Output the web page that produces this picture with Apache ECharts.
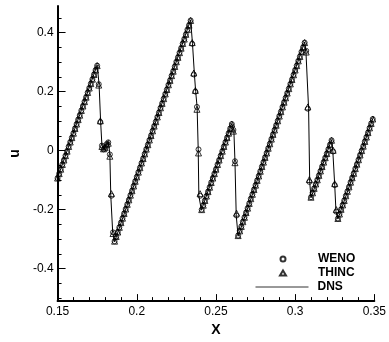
<!DOCTYPE html>
<html><head><meta charset="utf-8">
<script src="https://cdn.jsdelivr.net/npm/echarts@6/dist/echarts.min.js"></script>
<style>html,body{margin:0;padding:0;background:#fff}#c{width:389px;height:342px}</style>
</head><body><div id="c"></div>
<script>
const xGrid = [
0.150,0.151,0.152,0.153,0.154,0.155,0.156,0.157,0.158,0.159,
0.160,0.161,0.162,0.163,0.164,0.165,0.166,0.167,0.168,0.169,
0.170,0.171,0.172,0.173,0.174,0.175,0.176,0.177,0.178,0.179,
0.180,0.181,0.182,0.183,0.184,0.185,0.186,0.187,0.188,0.189,
0.190,0.191,0.192,0.193,0.194,0.195,0.196,0.197,0.198,0.199,
0.200,0.201,0.202,0.203,0.204,0.205,0.206,0.207,0.208,0.209,
0.210,0.211,0.212,0.213,0.214,0.215,0.216,0.217,0.218,0.219,
0.220,0.221,0.222,0.223,0.224,0.225,0.226,0.227,0.228,0.229,
0.230,0.231,0.232,0.233,0.234,0.235,0.236,0.237,0.238,0.239,
0.240,0.241,0.242,0.243,0.244,0.245,0.246,0.247,0.248,0.249,
0.250,0.251,0.252,0.253,0.254,0.255,0.256,0.257,0.258,0.259,
0.260,0.261,0.262,0.263,0.264,0.265,0.266,0.267,0.268,0.269,
0.270,0.271,0.272,0.273,0.274,0.275,0.276,0.277,0.278,0.279,
0.280,0.281,0.282,0.283,0.284,0.285,0.286,0.287,0.288,0.289,
0.290,0.291,0.292,0.293,0.294,0.295,0.296,0.297,0.298,0.299,
0.300,0.301,0.302,0.303,0.304,0.305,0.306,0.307,0.308,0.309,
0.310,0.311,0.312,0.313,0.314,0.315,0.316,0.317,0.318,0.319,
0.320,0.321,0.322,0.323,0.324,0.325,0.326,0.327,0.328,0.329,
0.330,0.331,0.332,0.333,0.334,0.335,0.336,0.337,0.338,0.339,
0.340,0.341,0.342,0.343,0.344,0.345,0.346,0.347,0.348,0.349];

const wenoU = [
-0.093,-0.078,-0.063,-0.047,-0.032,-0.017,-0.002,0.014,0.029,0.044,
0.059,0.075,0.090,0.105,0.120,0.136,0.151,0.166,0.181,0.197,
0.212,0.227,0.242,0.258,0.273,0.288,
0.225,0.097,0.017,0.004,0.012,0.022,0.028,-0.013,-0.153,-0.277,
-0.307,-0.291,-0.276,-0.260,-0.244,-0.229,-0.213,-0.198,-0.182,-0.167,
-0.151,-0.136,-0.120,-0.104,-0.089,-0.073,-0.058,-0.042,-0.027,-0.011,
0.005,0.020,0.036,0.051,0.067,0.083,0.098,0.114,0.129,0.145,
0.160,0.176,0.192,0.207,0.223,0.238,0.254,0.269,0.285,0.301,
0.316,0.332,0.347,0.363,0.378,0.394,0.410,0.425,0.441,
0.362,0.258,0.200,0.148,0.004,-0.153,
-0.200,-0.185,-0.169,-0.154,-0.139,-0.124,-0.108,-0.093,-0.078,-0.063,
-0.047,-0.032,-0.017,-0.002,0.014,0.029,0.044,0.059,0.075,0.090,
0.070,-0.036,-0.220,
-0.288,-0.272,-0.257,-0.241,-0.226,-0.210,-0.195,-0.179,-0.163,-0.148,
-0.132,-0.117,-0.101,-0.086,-0.070,-0.054,-0.039,-0.023,-0.008,0.008,
0.023,0.039,0.055,0.070,0.086,0.101,0.117,0.132,0.148,0.164,
0.179,0.195,0.210,0.226,0.241,0.257,0.273,0.288,0.304,0.319,
0.335,0.350,0.366,
0.338,0.142,-0.106,
-0.158,-0.143,-0.128,-0.113,-0.099,-0.084,-0.069,-0.054,-0.039,-0.024,
-0.010,0.005,0.020,0.035,
-0.003,-0.117,-0.207,
-0.230,-0.215,-0.199,-0.184,-0.169,-0.153,-0.138,-0.123,-0.107,-0.092,
-0.077,-0.061,-0.046,-0.031,-0.015,0.000,0.015,0.031,0.046,0.061,
0.077,0.092,0.107];

const thincU = [
-0.093,-0.078,-0.063,-0.047,-0.032,-0.017,-0.002,0.014,0.029,0.044,
0.059,0.075,0.090,0.105,0.120,0.136,0.151,0.166,0.181,0.197,
0.212,0.227,0.242,0.258,0.273,0.288,
0.222,0.101,0.014,0.006,0.010,0.020,0.025,-0.019,-0.146,-0.281,
-0.307,-0.291,-0.276,-0.260,-0.244,-0.229,-0.213,-0.198,-0.182,-0.167,
-0.151,-0.136,-0.120,-0.104,-0.089,-0.073,-0.058,-0.042,-0.027,-0.011,
0.005,0.020,0.036,0.051,0.067,0.083,0.098,0.114,0.129,0.145,
0.160,0.176,0.192,0.207,0.223,0.238,0.254,0.269,0.285,0.301,
0.316,0.332,0.347,0.363,0.378,0.394,0.410,0.425,0.441,
0.366,0.263,0.204,0.140,-0.008,-0.146,
-0.200,-0.185,-0.169,-0.154,-0.139,-0.124,-0.108,-0.093,-0.078,-0.063,
-0.047,-0.032,-0.017,-0.002,0.014,0.029,0.044,0.059,0.075,0.090,
0.066,-0.041,-0.212,
-0.288,-0.272,-0.257,-0.241,-0.226,-0.210,-0.195,-0.179,-0.163,-0.148,
-0.132,-0.117,-0.101,-0.086,-0.070,-0.054,-0.039,-0.023,-0.008,0.008,
0.023,0.039,0.055,0.070,0.086,0.101,0.117,0.132,0.148,0.164,
0.179,0.195,0.210,0.226,0.241,0.257,0.273,0.288,0.304,0.319,
0.335,0.350,0.366,
0.334,0.148,-0.098,
-0.158,-0.143,-0.128,-0.113,-0.099,-0.084,-0.069,-0.054,-0.039,-0.024,
-0.010,0.005,0.020,0.035,
0.001,-0.112,-0.200,
-0.230,-0.215,-0.199,-0.184,-0.169,-0.153,-0.138,-0.123,-0.107,-0.092,
-0.077,-0.061,-0.046,-0.031,-0.015,0.000,0.015,0.031,0.046,0.061,
0.077,0.092,0.107];

const dnsX = [0.150,0.175,0.1762,0.1772,0.1780,0.1792,0.1810,0.1820,0.1830,0.1836,0.1848,0.1860,
  0.2340,0.2352,0.2364,0.2372,0.2381,0.2388,0.2392,0.2408,
  0.2600,0.2613,0.2620,0.2628,0.2640,
  0.3060,0.3068,0.3085,0.3092,0.3100,
  0.3230,0.3238,0.3250,0.3258,0.3270,
  0.3495];
const dnsU = [-0.093,0.290,0.225,0.097,0.017,0.004,0.020,0.030,-0.010,-0.153,-0.277,-0.309,
  0.443,0.362,0.258,0.200,0.148,0.004,-0.153,-0.202,
  0.092,0.070,-0.036,-0.220,-0.290,
  0.368,0.338,0.142,-0.106,-0.160,
  0.037,-0.003,-0.117,-0.207,-0.232,
  0.115];

const yMajor = [-0.4,-0.2,0,0.2,0.4];
const yMinor = [-0.5,-0.45,-0.4,-0.35,-0.3,-0.25,-0.2,-0.15,-0.1,-0.05,0,0.05,0.1,0.15,0.2,0.25,0.3,0.35,0.4,0.45];
const markerNames = ['WENO','THINC'];
const lineNames = ['DNS'];

const FONT = 'Liberation Sans, Arial, sans-serif';
const chart = echarts.init(document.getElementById('c'));
const hollow = {color:'rgba(0,0,0,0)', borderColor:'#000', borderWidth:1};
const legendText = {fontFamily:FONT, fontWeight:'bold', fontSize:12, color:'#000', lineHeight:14};
chart.setOption({
  animation:false,
  backgroundColor:'#fff',
  grid:{left:47,right:10,top:6,bottom:34},
  legend:[
    {orient:'vertical', left:279, top:252, padding:0, itemWidth:6, itemHeight:5, itemGap:0,
     selectedMode:false, data:markerNames, symbolKeepAspect:true,
     textStyle:Object.assign({padding:[0,0,0,27]}, legendText)},
    {orient:'vertical', left:255, top:280, padding:0, itemWidth:53, itemHeight:5, itemGap:0,
     selectedMode:false, data:lineNames,
     lineStyle:{width:1, color:'#333'},
     textStyle:Object.assign({padding:[0,0,0,4]}, legendText)}
  ],
  xAxis:{type:'value', min:0.15, max:0.35, interval:0.05,
    name:'X', nameLocation:'middle', nameGap:19,
    nameTextStyle:{fontFamily:FONT, fontWeight:'bold', fontSize:14, color:'#000'},
    axisLine:{show:true, onZero:false, lineStyle:{color:'#000', width:2}},
    axisTick:{show:true, inside:true, length:7, lineStyle:{color:'#000', width:1}},
    minorTick:{show:true, splitNumber:5, length:4, lineStyle:{color:'#000', width:1}},
    axisLabel:{color:'#000', fontFamily:FONT, fontSize:12, margin:5},
    splitLine:{show:false}, minorSplitLine:{show:false}},
  yAxis:[{type:'value', min:-0.51, max:0.49, position:'left',
    name:'u', nameLocation:'middle', nameGap:24, nameRotate:90,
    nameTextStyle:{fontFamily:FONT, fontWeight:'bold', fontSize:14, color:'#000'},
    axisLine:{show:true, onZero:false, lineStyle:{color:'#000', width:2}},
    axisTick:{show:true, inside:true, length:8, customValues:yMajor, lineStyle:{color:'#000', width:1}},
    axisLabel:{show:true, customValues:yMajor, color:'#000', fontFamily:FONT, fontSize:12, margin:4,
      formatter:v=>String(Math.round(v*10)/10)},
    splitLine:{show:false}},
   {type:'value', min:-0.51, max:0.49, position:'left', offset:0,
    axisLine:{show:false},
    axisTick:{show:true, inside:true, length:4, customValues:yMinor, lineStyle:{color:'#000', width:1}},
    axisLabel:{show:false}, splitLine:{show:false}}],
  series:[
    {type:'line', name:'DNS', data:dnsX.map((x,i)=>[x,dnsU[i]]), symbol:'none', showSymbol:false,
      lineStyle:{color:'#000', width:1}, itemStyle:{color:'rgba(0,0,0,0)', borderWidth:0}, z:1},
    {type:'scatter', name:'WENO', data:xGrid.map((x,i)=>[x,wenoU[i]]), symbol:'circle', symbolSize:5,
      itemStyle:hollow, z:3},
    {type:'scatter', name:'THINC', data:xGrid.map((x,i)=>[x,thincU[i]]), symbol:'triangle', symbolSize:6,
      itemStyle:hollow, z:2}
  ]
});
</script></body></html>
